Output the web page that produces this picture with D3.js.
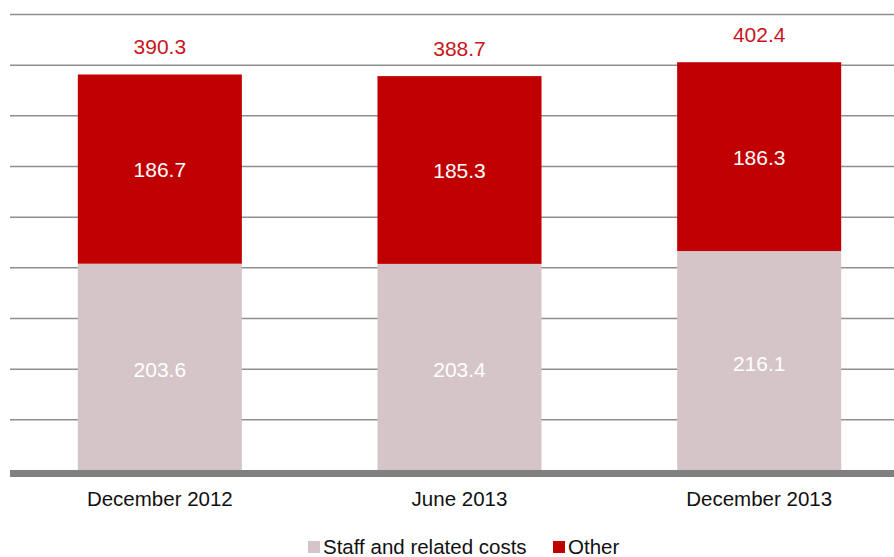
<!DOCTYPE html>
<html>
<head>
<meta charset="utf-8">
<script src="https://cdn.jsdelivr.net/npm/d3@7"></script>
<style>
  body { margin: 0; background: #fff; }
  svg { display: block; font-family: "Liberation Sans", Arial, sans-serif; }
</style>
</head>
<body>
<svg id="chart" width="894" height="557"></svg>
<script>
// chart values
var categories = ["December 2012", "June 2013", "December 2013"];
var staff = [203.6, 203.4, 216.1];
var other = [186.7, 185.3, 186.3];
var totals = [390.3, 388.7, 402.4];
var gridTicks = [0, 50, 100, 150, 200, 250, 300, 350, 400, 450];
var seriesNames = ["Staff and related costs", "Other"];

var colStaff = "#d5c5c8";
var colOther = "#c00000";

var svg = d3.select("#chart");

var x = d3.scaleBand()
	.domain(categories)
	.range([10, 909])
	.paddingInner(0.4526)
	.paddingOuter(0.2263);

var y = d3.scaleLinear()
	.domain([0, 450])
	.range([470, 14]);

// gridlines
var grid = svg.append("g")
	.attr("transform", "translate(10,0)")
	.call(d3.axisLeft(y).tickValues(gridTicks.slice(1)).tickSize(-884).tickFormat(""));
grid.select(".domain").remove();
grid.selectAll("line")
	.attr("stroke", "#8f8f8f")
	.attr("stroke-width", 1.5);

var rows = categories.map(function(c, i){
	return { cat: c, staff: staff[i], other: other[i], total: totals[i] };
});

var bars = svg.selectAll("g.bar")
	.data(rows)
	.enter()
	.append("g")
		.attr("class", "bar");

bars.append("rect")
	.attr("x", function(d){ return x(d.cat); })
	.attr("width", x.bandwidth())
	.attr("y", function(d){ return y(d.staff); })
	.attr("height", function(d){ return y(0) - y(d.staff); })
	.attr("fill", colStaff);

bars.append("rect")
	.attr("x", function(d){ return x(d.cat); })
	.attr("width", x.bandwidth())
	.attr("y", function(d){ return y(d.staff + d.other); })
	.attr("height", function(d){ return y(d.staff) - y(d.staff + d.other); })
	.attr("fill", colOther);

// segment labels
bars.append("text")
	.attr("x", function(d){ return x(d.cat) + x.bandwidth() / 2; })
	.attr("y", function(d){ return (y(0) + y(d.staff)) / 2 + 10; })
	.attr("text-anchor", "middle")
	.attr("font-size", 21)
	.attr("fill", "#ffffff")
	.text(function(d){ return d.staff.toFixed(1); });

bars.append("text")
	.attr("x", function(d){ return x(d.cat) + x.bandwidth() / 2; })
	.attr("y", function(d){ return (y(d.staff) + y(d.staff + d.other)) / 2 + 8; })
	.attr("text-anchor", "middle")
	.attr("font-size", 21)
	.attr("fill", "#ffffff")
	.text(function(d){ return d.other.toFixed(1); });

// totals
bars.append("text")
	.attr("x", function(d){ return x(d.cat) + x.bandwidth() / 2; })
	.attr("y", function(d){ return y(d.total) - 20; })
	.attr("text-anchor", "middle")
	.attr("font-size", 21)
	.attr("fill", "#c8161d")
	.text(function(d){ return d.total.toFixed(1); });

// baseline
svg.append("rect")
	.attr("x", 10)
	.attr("y", y(0))
	.attr("width", 884)
	.attr("height", 7)
	.attr("fill", "#808080");

// category labels
svg.append("g")
	.selectAll("text")
	.data(categories)
	.enter()
	.append("text")
		.attr("x", function(d){ return x(d) + x.bandwidth() / 2; })
		.attr("y", 506)
		.attr("text-anchor", "middle")
		.attr("font-size", 20.5)
		.attr("fill", "#111")
		.text(function(d){ return d; });

// legend
var legend = svg.append("g");
var legX = [308, 553];
var legCol = [colStaff, colOther];
seriesNames.forEach(function(name, i){
	legend.append("rect")
		.attr("x", legX[i])
		.attr("y", 541)
		.attr("width", 12)
		.attr("height", 12)
		.attr("fill", legCol[i]);
	legend.append("text")
		.attr("x", legX[i] + 15)
		.attr("y", 554)
		.attr("font-size", 20.5)
		.attr("fill", "#111")
		.text(name);
});
</script>
</body>
</html>
